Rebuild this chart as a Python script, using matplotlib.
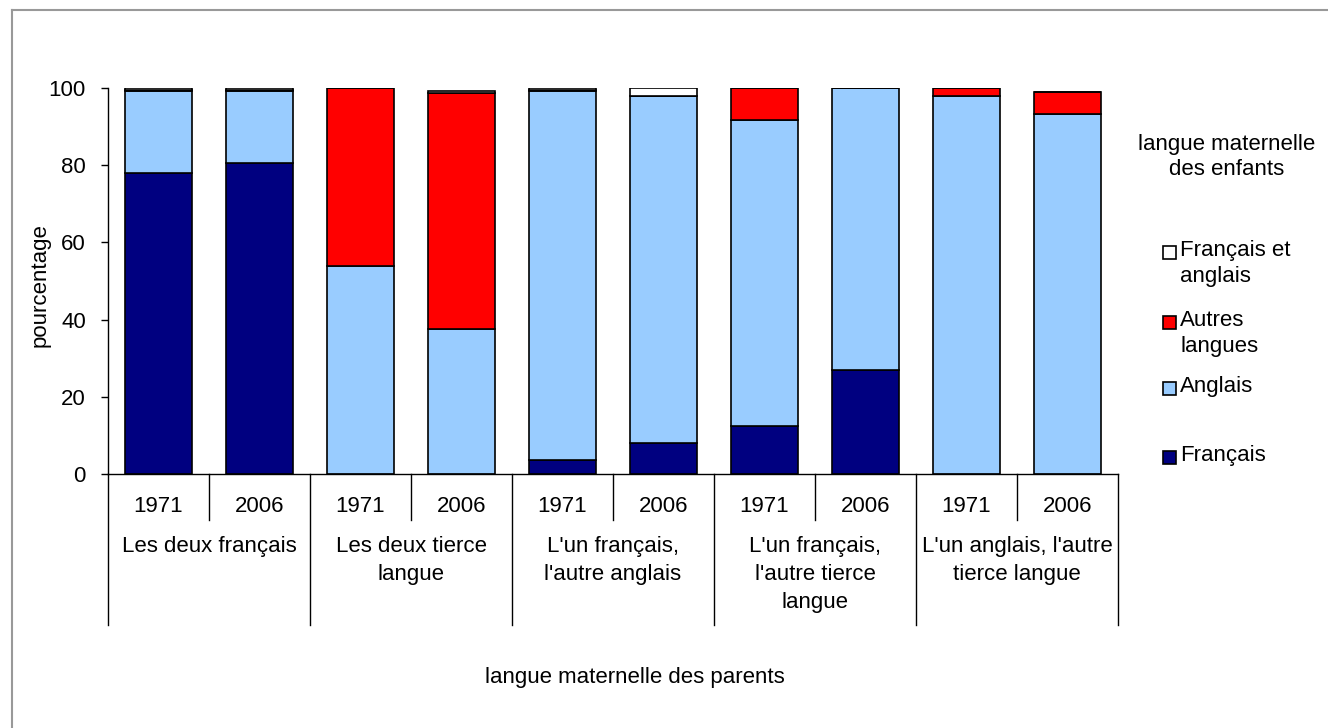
import matplotlib.pyplot as plt
from matplotlib.patches import Rectangle
from matplotlib.lines import Line2D

plt.rcParams['font.family'] = ['Liberation Sans', 'DejaVu Sans']
FS = 16

# data (percent of children by mother tongue)
groups = ["Les deux français", "Les deux tierce\nlangue", "L'un français,\nl'autre anglais",
          "L'un français,\nl'autre tierce\nlangue", "L'un anglais, l'autre\ntierce langue"]
years = ["1971", "2006"] * 5
francais = [78, 80.5, 0, 0, 3.5, 8, 12.5, 27, 0, 0]
anglais = [21.3, 18.8, 54, 37.5, 95.8, 89.8, 79.2, 73, 98, 93.2]
autres = [0.3, 0.3, 46, 61.2, 0.3, 0, 8.3, 0, 2, 5.8]
fr_et_an = [0.4, 0.4, 0, 0.6, 0.4, 2.2, 0, 0, 0, 0]

series = [("Français", francais, "#000080"),
          ("Anglais", anglais, "#99CCFF"),
          ("Autres\nlangues", autres, "#FF0000"),
          ("Français et\nanglais", fr_et_an, "#FFFFFF")]

W, H = 1328, 728
fig = plt.figure(figsize=(W / 100, H / 100), dpi=100)


def px(x, y):
    return x / W, 1 - y / H


ax = fig.add_axes([108 / W, 1 - 474 / H, (1118 - 108) / W, (474 - 88) / H])

xs = [i + 0.5 for i in range(len(years))]
bottom = [0] * len(years)
for name, vals, col in series:
    ax.bar(xs, vals, width=0.67, bottom=bottom, color=col, edgecolor="black", linewidth=1.2)
    bottom = [b + v for b, v in zip(bottom, vals)]

ax.set_xlim(0, 10)
ax.set_ylim(0, 100)
ax.set_yticks([0, 20, 40, 60, 80, 100])
ax.tick_params(axis="y", direction="out", length=5, width=1, pad=11, labelsize=FS)
ax.set_xticks([])
for s in ["top", "right"]:
    ax.spines[s].set_visible(False)
ax.spines["left"].set_linewidth(1)
ax.spines["bottom"].set_linewidth(1)

# category labels with separators
tr = ax.get_xaxis_transform()
axh = 474 - 88
for i, y in enumerate(years):
    ax.text(i + 0.5, -(507 - 474) / axh, y, transform=tr, ha="center", va="center", fontsize=FS)
for i in range(1, 10, 2):
    ax.plot([i, i], [0, -(520 - 474) / axh], transform=tr, color="black", lw=1, clip_on=False)
for i in range(0, 11, 2):
    ax.plot([i, i], [0, -(625 - 474) / axh], transform=tr, color="black", lw=1, clip_on=False)
for g, name in enumerate(groups):
    ax.text(2 * g + 1, -(536 - 474) / axh, name, transform=tr, ha="center", va="top",
            fontsize=FS, linespacing=1.45)

fig.text(*px(40, 285), "pourcentage", rotation=90, ha="center", va="center", fontsize=FS)
fig.text(*px(635, 678), "langue maternelle des parents", ha="center", va="center", fontsize=FS)

# legend
fig.text(*px(1227, 157), "langue maternelle\ndes enfants", ha="center", va="center",
         fontsize=FS, linespacing=1.3)
leg_y = {"Français et\nanglais": 252, "Autres\nlangues": 322, "Anglais": 388, "Français": 457}
for name, vals, col in series:
    y = leg_y[name]
    x0, y0 = px(1163, y + 7)
    fig.add_artist(Rectangle((x0, y0), 13 / W, 13 / H, facecolor=col, edgecolor="black",
                             lw=1.2, transform=fig.transFigure))
    fig.text(*px(1180, y - 12), name, ha="left", va="top", fontsize=FS, linespacing=1.3)

# outer frame
fig.add_artist(Line2D([12 / W, 12 / W], [0, 1 - 10 / H], color="#999999", lw=1.5,
                      transform=fig.transFigure))
fig.add_artist(Line2D([12 / W, 1], [1 - 10 / H, 1 - 10 / H], color="#999999", lw=1.5,
                      transform=fig.transFigure))

fig.savefig("out.png", dpi=100)
